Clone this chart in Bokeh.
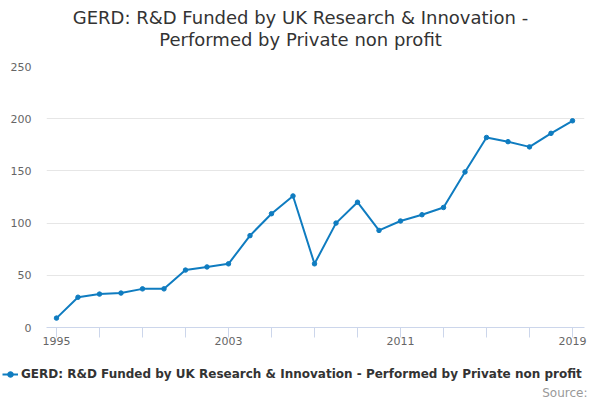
from bokeh.plotting import figure
from bokeh.layouts import column
from bokeh.models import (ColumnDataSource, Label, Legend, LegendItem, FixedTicker,
                          Range1d)
from bokeh.embed import file_html
from bokeh.resources import INLINE

years = list(range(1995, 2020))
values = [9, 29, 32, 33, 37, 37, 55, 58, 61, 88, 109, 126, 61, 100, 120, 93,
          102, 108, 115, 149, 182, 178, 173, 186, 198]
x_ticks = list(range(1995, 2020, 2))
x_labels = {1995: "1995", 2003: "2003", 2011: "2011", 2019: "2019"}
y_ticks = [0, 50, 100, 150, 200, 250]
title_lines = ["GERD: R&D Funded by UK Research & Innovation -",
               "Performed by Private non profit"]
series_name = "GERD: R&D Funded by UK Research & Innovation - Performed by Private non profit"
credit = "Source:"

FONT = "DejaVu Sans"
LINE = "#0f7cc0"


def strip(h):
    f = figure(width=600, height=h, output_backend="svg", toolbar_location=None,
               x_range=Range1d(0, 600), y_range=Range1d(0, h),
               min_border=0, outline_line_color=None, x_axis_location=None,
               y_axis_location=None, frame_align=False)
    f.xgrid.grid_line_color = None
    f.ygrid.grid_line_color = None
    return f


# title strip
tf = strip(56)
for i, line in enumerate(title_lines):
    tf.add_layout(Label(x=300, y=39 - 22 * i, x_units="screen", y_units="screen",
                        text=line, text_align="center", text_baseline="middle",
                        text_font=FONT, text_font_size="18px",
                        text_color="#333333"))

# main chart
src = ColumnDataSource(data=dict(x=years, y=values))
p = figure(width=600, height=304, output_backend="svg", toolbar_location=None,
           x_range=Range1d(1994.535, 2019.558), y_range=Range1d(0, 250),
           min_border_left=46, min_border_right=16, min_border_top=10,
           min_border_bottom=33, outline_line_color=None)

p.line("x", "y", source=src, line_color=LINE, line_width=2)
p.scatter("x", "y", source=src, size=4.5, fill_color=LINE, line_color=LINE)

p.xaxis.ticker = FixedTicker(ticks=x_ticks)
p.xaxis.major_label_overrides = {t: x_labels.get(t, "") for t in x_ticks}
p.xaxis.axis_line_color = "#ccd6eb"
p.xaxis.major_tick_line_color = "#ccd6eb"
p.xaxis.major_tick_out = 10
p.xaxis.major_tick_in = 0
p.xaxis.minor_tick_line_color = None
p.xaxis.major_label_standoff = -1
p.xaxis.major_label_text_font = FONT
p.xaxis.major_label_text_font_size = "11px"
p.xaxis.major_label_text_color = "#666666"

p.yaxis.ticker = FixedTicker(ticks=y_ticks)
p.yaxis.axis_line_color = None
p.yaxis.major_tick_line_color = None
p.yaxis.minor_tick_line_color = None
p.yaxis.major_tick_out = 0
p.yaxis.major_label_standoff = 15
p.yaxis.major_label_text_font = FONT
p.yaxis.major_label_text_font_size = "11px"
p.yaxis.major_label_text_color = "#666666"

p.xgrid.grid_line_color = None
p.ygrid.grid_line_color = "#e6e6e6"
p.ygrid.ticker = FixedTicker(ticks=y_ticks)

# legend strip
lg = strip(40)
empty = ColumnDataSource(data=dict(x=[float("nan")], y=[float("nan")]))
k_line = lg.line("x", "y", source=empty, line_color=LINE, line_width=2)
k_pts = lg.scatter("x", "y", source=empty, size=4.5, fill_color=LINE, line_color=LINE)

legend = Legend(items=[LegendItem(label=series_name, renderers=[k_line, k_pts])],
                orientation="horizontal", location=(2, 19),
                glyph_width=16, glyph_height=14, label_standoff=3,
                padding=0, margin=0, spacing=0, border_line_color=None,
                background_fill_alpha=0,
                label_text_font=FONT, label_text_font_size="12px",
                label_text_font_style="bold", label_text_color="#333333")
lg.add_layout(legend, "center")

lg.add_layout(Label(x=587, y=8, x_units="screen", y_units="screen",
                    text=credit, text_align="right", text_baseline="middle",
                    text_font=FONT, text_font_size="12px", text_color="#999999"))

layout = column(tf, p, lg, spacing=0)
open("out.html", "w").write(file_html(layout, INLINE))
